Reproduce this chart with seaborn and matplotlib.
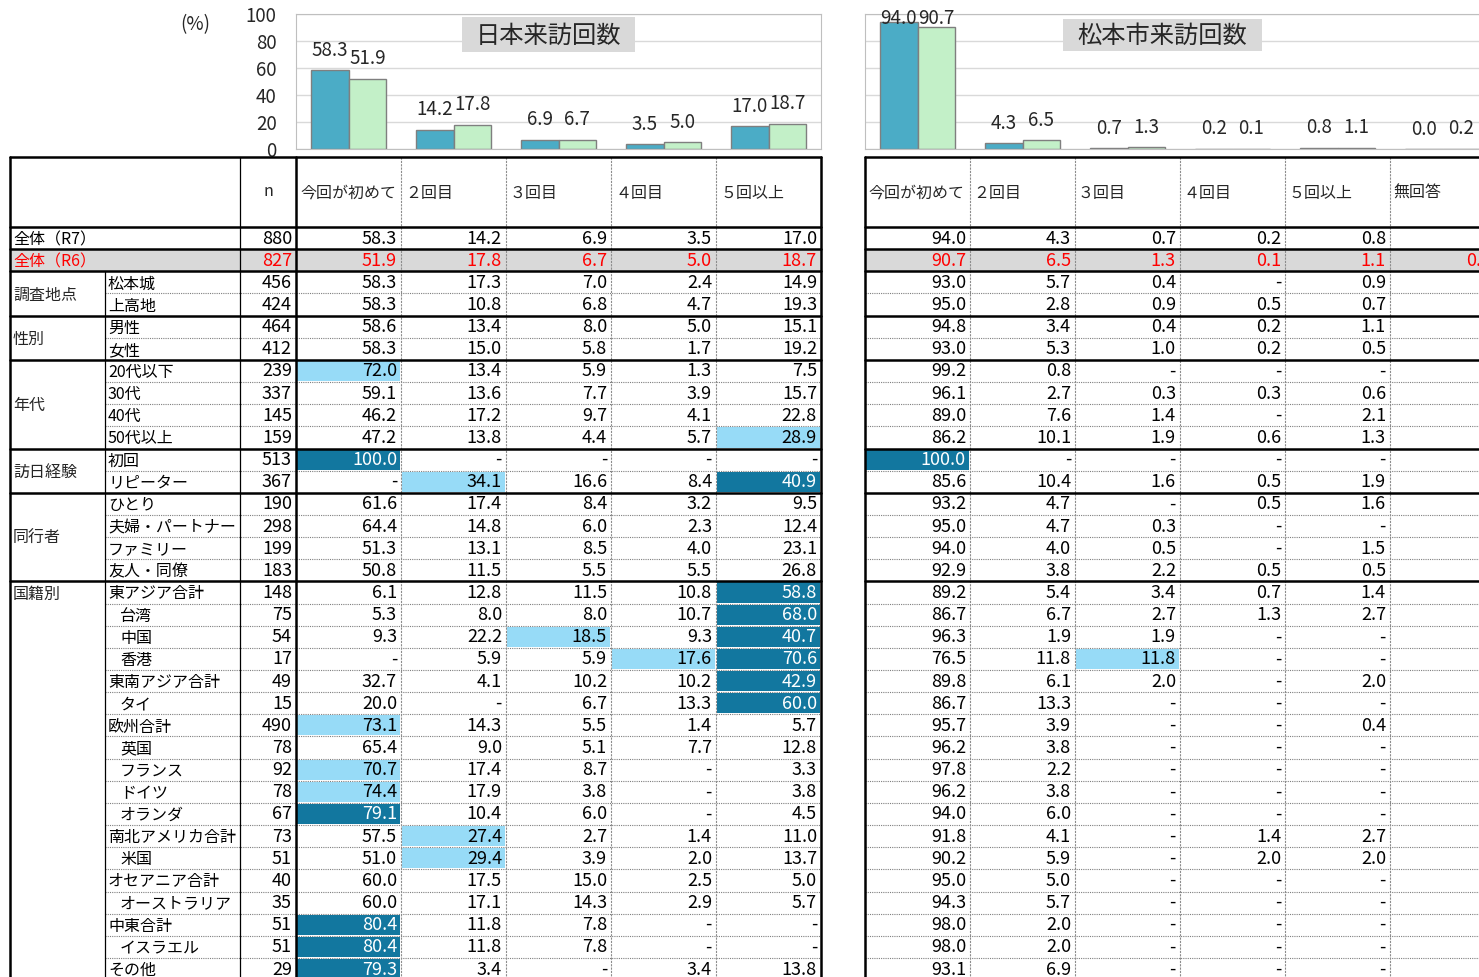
import pandas as pd
import matplotlib.pyplot as plt
import seaborn as sns
from matplotlib.patches import Rectangle

sns.set_style("white")
plt.rcParams['font.family'] = ['Noto Sans CJK JP', 'DejaVu Sans']

# ------------------------- Data -------------------------
visit_cols = ["今回が初めて", "２回目", "３回目", "４回目", "５回以上"]
visit_cols_mat = visit_cols + ["無回答"]

# chart values (全体 R7 / R6)
japan_r7 = [58.3, 14.2, 6.9, 3.5, 17.0]
japan_r6 = [51.9, 17.8, 6.7, 5.0, 18.7]
mat_r7 = [94.0, 4.3, 0.7, 0.2, 0.8, 0.0]
mat_r6 = [90.7, 6.5, 1.3, 0.1, 1.1, 0.2]

row_labels = ["全体（R7）", "全体（R6）", "松本城", "上高地", "男性", "女性",
              "20代以下", "30代", "40代", "50代以上", "初回", "リピーター",
              "ひとり", "夫婦・パートナー", "ファミリー", "友人・同僚",
              "東アジア合計", "台湾", "中国", "香港", "東南アジア合計", "タイ",
              "欧州合計", "英国", "フランス", "ドイツ", "オランダ",
              "南北アメリカ合計", "米国", "オセアニア合計", "オーストラリア",
              "中東合計", "イスラエル", "その他"]
indented = ["台湾", "中国", "香港", "タイ", "英国", "フランス", "ドイツ", "オランダ",
            "米国", "オーストラリア", "イスラエル"]
category_names = ["調査地点", "性別", "年代", "訪日経験", "同行者", "国籍別"]
category_sizes = [2, 2, 4, 2, 4, 18]

n_counts = [880, 827, 456, 424, 464, 412, 239, 337, 145, 159, 513, 367, 190, 298,
            199, 183, 148, 75, 54, 17, 49, 15, 490, 78, 92, 78, 67, 73, 51, 40, 35,
            51, 51, 29]

# None -> "-", "" -> blank
japan_first = [58.3, 51.9, 58.3, 58.3, 58.6, 58.3, 72.0, 59.1, 46.2, 47.2, 100.0, None,
               61.6, 64.4, 51.3, 50.8, 6.1, 5.3, 9.3, None, 32.7, 20.0, 73.1, 65.4,
               70.7, 74.4, 79.1, 57.5, 51.0, 60.0, 60.0, 80.4, 80.4, 79.3]
japan_2nd = [14.2, 17.8, 17.3, 10.8, 13.4, 15.0, 13.4, 13.6, 17.2, 13.8, None, 34.1,
             17.4, 14.8, 13.1, 11.5, 12.8, 8.0, 22.2, 5.9, 4.1, None, 14.3, 9.0,
             17.4, 17.9, 10.4, 27.4, 29.4, 17.5, 17.1, 11.8, 11.8, 3.4]
japan_3rd = [6.9, 6.7, 7.0, 6.8, 8.0, 5.8, 5.9, 7.7, 9.7, 4.4, None, 16.6, 8.4, 6.0,
             8.5, 5.5, 11.5, 8.0, 18.5, 5.9, 10.2, 6.7, 5.5, 5.1, 8.7, 3.8, 6.0, 2.7,
             3.9, 15.0, 14.3, 7.8, 7.8, None]
japan_4th = [3.5, 5.0, 2.4, 4.7, 5.0, 1.7, 1.3, 3.9, 4.1, 5.7, None, 8.4, 3.2, 2.3,
             4.0, 5.5, 10.8, 10.7, 9.3, 17.6, 10.2, 13.3, 1.4, 7.7, None, None, None,
             1.4, 2.0, 2.5, 2.9, None, None, 3.4]
japan_5plus = [17.0, 18.7, 14.9, 19.3, 15.1, 19.2, 7.5, 15.7, 22.8, 28.9, None, 40.9,
               9.5, 12.4, 23.1, 26.8, 58.8, 68.0, 40.7, 70.6, 42.9, 60.0, 5.7, 12.8,
               3.3, 3.8, 4.5, 11.0, 13.7, 5.0, 5.7, None, None, 13.8]

mat_first = [94.0, 90.7, 93.0, 95.0, 94.8, 93.0, 99.2, 96.1, 89.0, 86.2, 100.0, 85.6,
             93.2, 95.0, 94.0, 92.9, 89.2, 86.7, 96.3, 76.5, 89.8, 86.7, 95.7, 96.2,
             97.8, 96.2, 94.0, 91.8, 90.2, 95.0, 94.3, 98.0, 98.0, 93.1]
mat_2nd = [4.3, 6.5, 5.7, 2.8, 3.4, 5.3, 0.8, 2.7, 7.6, 10.1, None, 10.4, 4.7, 4.7,
           4.0, 3.8, 5.4, 6.7, 1.9, 11.8, 6.1, 13.3, 3.9, 3.8, 2.2, 3.8, 6.0, 4.1,
           5.9, 5.0, 5.7, 2.0, 2.0, 6.9]
mat_3rd = [0.7, 1.3, 0.4, 0.9, 0.4, 1.0, None, 0.3, 1.4, 1.9, None, 1.6, None, 0.3,
           0.5, 2.2, 3.4, 2.7, 1.9, 11.8, 2.0] + [None] * 13
mat_4th = [0.2, 0.1, None, 0.5, 0.2, 0.2, None, 0.3, None, 0.6, None, 0.5, 0.5, None,
           None, 0.5, 0.7, 1.3, None, None, None, None, None, None, None, None, None,
           1.4, 2.0, None, None, None, None, None]
mat_5plus = [0.8, 1.1, 0.9, 0.7, 1.1, 0.5, None, 0.6, 2.1, 1.3, None, 1.9, 1.6, None,
             1.5, 0.5, 1.4, 2.7, None, None, 2.0, None, 0.4, None, None, None, None,
             2.7, 2.0, None, None, None, None, None]
mat_noans = ["", 0.2] + [""] * 32

japan_table = [japan_first, japan_2nd, japan_3rd, japan_4th, japan_5plus]
mat_table = [mat_first, mat_2nd, mat_3rd, mat_4th, mat_5plus, mat_noans]

# highlighted cells (row, col)
japan_light = [(6, 0), (9, 4), (11, 1), (18, 2), (19, 3), (22, 0), (24, 0), (25, 0),
               (27, 1), (28, 1)]
japan_dark = [(10, 0), (11, 4), (16, 4), (17, 4), (18, 4), (19, 4), (20, 4), (21, 4),
              (26, 0), (31, 0), (32, 0), (33, 0)]
mat_light = [(19, 2)]
mat_dark = [(10, 0)]

BLUE = "#4BACC6"
GREEN = "#C3F0C8"
LIGHT = "#97DBF7"
DARK = "#12779F"
RED = "#FF0000"

W, H = 1479, 977
TOP, HEAD_B, ROW_H, COL_W = 157, 227, 22.15, 105
LEFT_X0, RIGHT_X0 = 296, 865


def fmt(v):
    if v is None:
        return "-"
    if v == "":
        return ""
    return f"{v:.1f}"


def ry(i):
    return HEAD_B + i * ROW_H


fig = plt.figure(figsize=(W / 100, H / 100), dpi=100)


# ------------------------- Bar charts -------------------------
def draw_chart(x0, width, cats, r7, r6, show_y):
    ax = fig.add_axes([x0 / W, 1 - 149 / H, width / W, 135 / H])
    df = pd.DataFrame({"回数": cats * 2,
                       "年度": ["R7"] * len(cats) + ["R6"] * len(cats),
                       "割合": r7 + r6})
    sns.barplot(data=df, x="回数", y="割合", hue="年度", order=cats,
                hue_order=["R7", "R6"], palette=[BLUE, GREEN], saturation=1,
                width=0.715, edgecolor="#7F7F7F", linewidth=1, errorbar=None,
                legend=False, ax=ax)
    ax.set_xlim(-0.5, len(cats) - 0.5)
    ax.set_ylim(0, 100)
    ax.set_yticks(range(0, 101, 20))
    ax.grid(axis="y", color="#D9D9D9", lw=1)
    ax.set_axisbelow(True)
    ax.set_xticks([])
    ax.set_xlabel("")
    ax.set_ylabel("")
    for s in ax.spines.values():
        s.set_color("#BFBFBF")
    if show_y:
        ax.tick_params(axis="y", length=0, pad=14, labelsize=13.5)
    else:
        ax.tick_params(axis="y", length=0, labelleft=False)
    for cont, vals in zip(ax.containers, [r7, r6]):
        for bar, v in zip(cont, vals):
            ax.text(bar.get_x() + bar.get_width() / 2, min(v + 14.8, 96.5), f"{v:.1f}",
                    ha="center", va="center", fontsize=13.5, clip_on=False)
    return ax


draw_chart(LEFT_X0, COL_W * 5, visit_cols, japan_r7, japan_r6, True)
draw_chart(RIGHT_X0, COL_W * 6, visit_cols_mat, mat_r7, mat_r6, False)

# ------------------------- Overlay: titles and tables -------------------------
tab = fig.add_axes([0, 0, 1, 1])
tab.set_xlim(0, W)
tab.set_ylim(H, 0)
tab.axis("off")

tab.add_patch(Rectangle((462, 17), 173, 35, color="#D9D9D9", lw=0))
tab.text(548.5, 35.5, "日本来訪回数", ha="center", va="center", fontsize=17.5)
tab.add_patch(Rectangle((1063, 19), 199, 32, color="#D9D9D9", lw=0))
tab.text(1162.5, 35.5, "松本市来訪回数", ha="center", va="center", fontsize=17.5)
tab.text(195, 25, "(%)", ha="center", va="center", fontsize=13.5)

bottom = H + 20
LBL_FS, NUM_FS = 11.5, 13
LBL_DY = 1.5

# R6 row background
tab.add_patch(Rectangle((10, ry(1)), 811, ROW_H, color="#D9D9D9", lw=0, zorder=0))
tab.add_patch(Rectangle((RIGHT_X0, ry(1)), 630, ROW_H, color="#D9D9D9", lw=0, zorder=0))


def draw_values(x0, table, light, dark):
    for cells, color in [(light, LIGHT), (dark, DARK)]:
        for r, c in cells:
            tab.add_patch(Rectangle((x0 + c * COL_W + 1, ry(r) + 1), COL_W - 2,
                                    ROW_H - 2, color=color, lw=0, zorder=0.5))
    for c, col in enumerate(table):
        for r, v in enumerate(col):
            tc = RED if r == 1 else "black"
            if (r, c) in dark:
                tc = "white"
            tab.text(x0 + (c + 1) * COL_W - 4, ry(r) + ROW_H / 2 + 0.5, fmt(v),
                     ha="right", va="center", fontsize=NUM_FS, color=tc)


def draw_grid(x0, x1, ncols):
    # thin inner row lines
    thick_rows = [0, 1, 2, 4, 6, 10, 12, 16]
    for i in range(3, 35):
        if i not in thick_rows:
            tab.plot([max(x0, 105), x1], [ry(i), ry(i)], color="#7F7F7F", lw=0.8,
                     ls=(0, (1, 1)), zorder=1)
    for i in thick_rows:
        tab.plot([x0, x1], [ry(i), ry(i)], color="black", lw=1.8, zorder=2)
    tab.plot([x0, x1], [TOP, TOP], color="black", lw=1.8, zorder=2)
    for c in range(1, ncols):
        xc = (LEFT_X0 if x0 < LEFT_X0 else x0) + c * COL_W
        tab.plot([xc, xc], [TOP, bottom], color="#8C8C8C", lw=0.8,
                 ls=(0, (2, 1)), zorder=1)


# left table
draw_grid(10, 821, 5)
for xv in [10, LEFT_X0, 821]:
    tab.plot([xv, xv], [TOP, bottom], color="black", lw=1.8, zorder=2)
tab.plot([240, 240], [TOP, bottom], color="black", lw=0.9, zorder=2)
tab.plot([105, 105], [ry(2), bottom], color="black", lw=0.9, zorder=2)

tab.text(268, 192, "n", ha="center", va="center", fontsize=LBL_FS)
for c, name in enumerate(visit_cols):
    tab.text(LEFT_X0 + c * COL_W + 4, 192 + LBL_DY, name, ha="left", va="center",
             fontsize=LBL_FS)

for i, label in enumerate(row_labels):
    yc = ry(i) + ROW_H / 2
    tc = RED if i == 1 else "black"
    if i < 2:
        x = 13
    else:
        x = 108 + (12 if label in indented else 0)
    tab.text(x, yc + LBL_DY, label, ha="left", va="center", fontsize=LBL_FS, color=tc)
    tab.text(292, yc + 0.5, str(n_counts[i]), ha="right", va="center",
             fontsize=NUM_FS, color=tc)

start = 2
for name, size in zip(category_names, category_sizes):
    if name == "国籍別":
        yc = ry(start) + ROW_H / 2
    else:
        yc = ry(start) + size * ROW_H / 2
    tab.text(13, yc + LBL_DY, name, ha="left", va="center", fontsize=LBL_FS)
    start += size

draw_values(LEFT_X0, japan_table, japan_light, japan_dark)

# right table
draw_grid(RIGHT_X0, RIGHT_X0 + 6 * COL_W, 6)
tab.plot([RIGHT_X0, RIGHT_X0], [TOP, bottom], color="black", lw=1.8, zorder=2)
for c, name in enumerate(visit_cols_mat):
    tab.text(RIGHT_X0 + c * COL_W + 3, 192 + LBL_DY, name, ha="left", va="center",
             fontsize=LBL_FS)
draw_values(RIGHT_X0, mat_table, mat_light, mat_dark)

fig.savefig("out.png", dpi=100, facecolor="white")
